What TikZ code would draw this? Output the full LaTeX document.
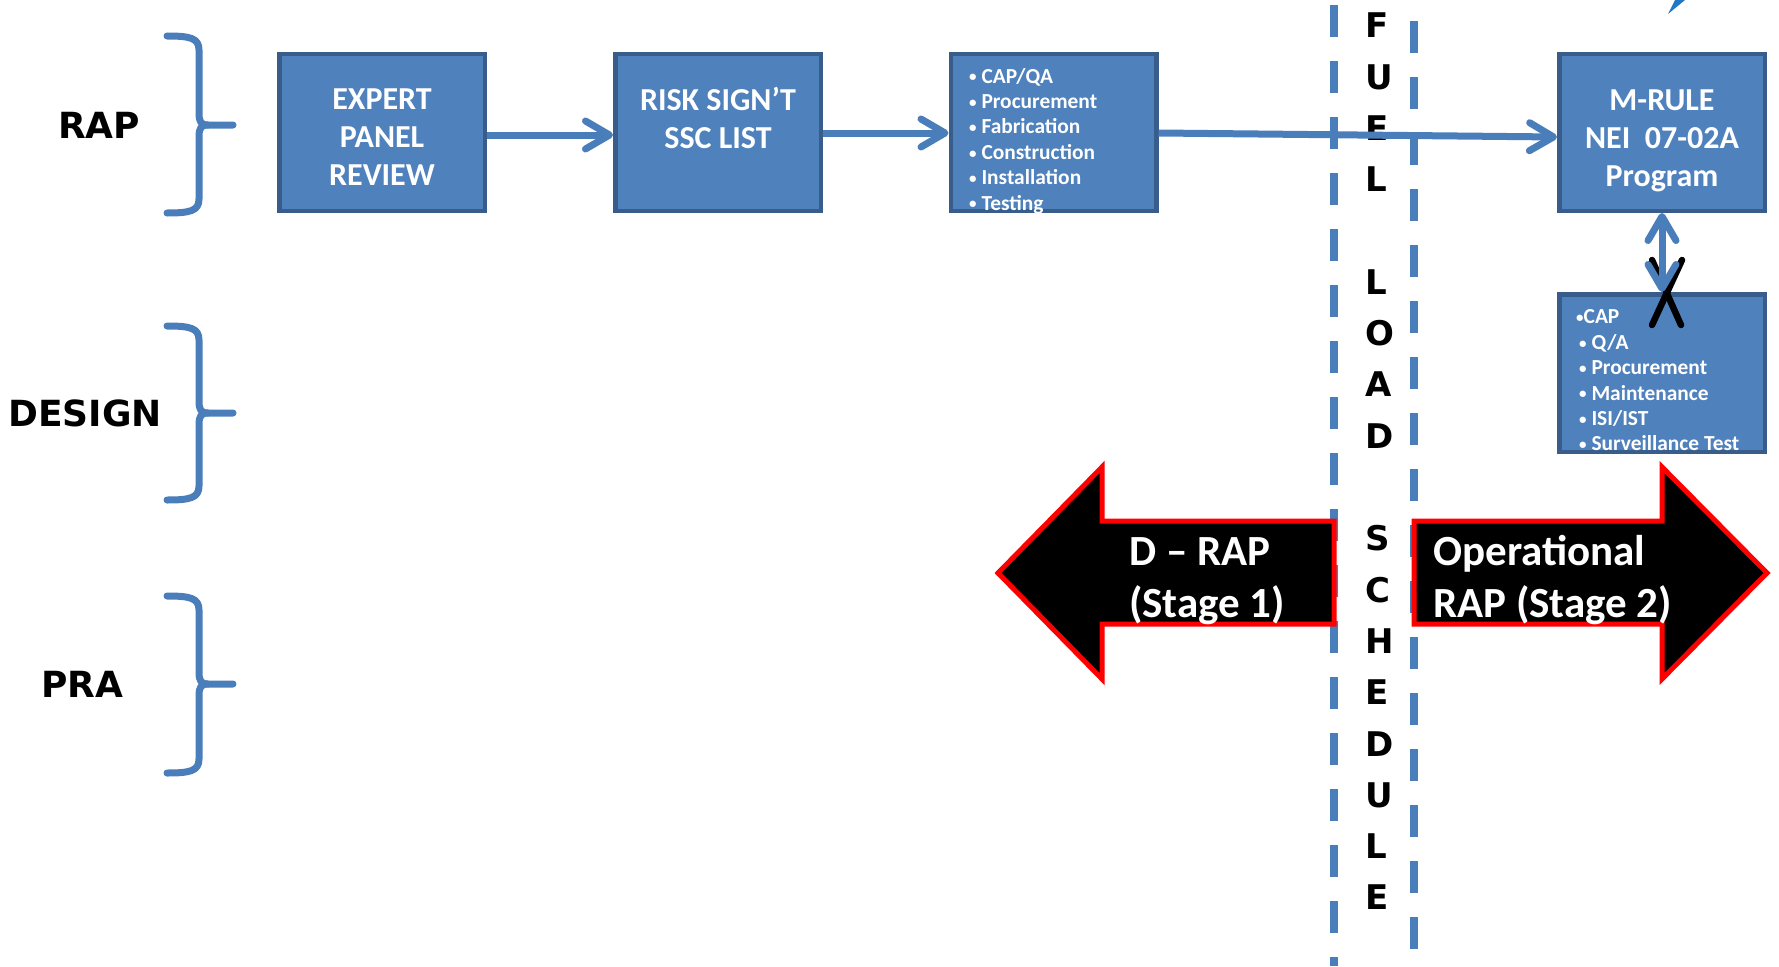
\documentclass[tikz,border=0pt]{standalone}
\usepackage{fontspec}
\setmainfont{Carlito}
\newfontfamily\labfont{DejaVu Sans}
\usetikzlibrary{arrows.meta}
\definecolor{boxfill}{RGB}{79,129,189}
\definecolor{boxedge}{RGB}{56,93,138}
\definecolor{lineblue}{RGB}{74,126,187}
\definecolor{tipblue}{RGB}{31,119,200}
\newcommand{\bul}{\raisebox{1.2pt}{\fontsize{15}{15}\selectfont •}}
\tikzset{
  >={Straight Barb[length=24pt,width=28pt,round]},
  box/.style={draw=boxedge, fill=boxfill, line width=4.5pt, minimum width=205.5pt, minimum height=156.5pt, inner sep=0pt},
  boxtext/.style={text=white, font=\fontsize{32}{38}\selectfont\bfseries, align=center, inner sep=0pt},
  listtext/.style={text=white, font=\fontsize{21.4}{25.4}\selectfont\bfseries, align=left, inner sep=0pt, anchor=west},
  conn/.style={draw=lineblue, line width=7pt, ->},
  dblconn/.style={draw=lineblue, line width=7pt, <->},
  brace/.style={draw=lineblue, line width=7pt, line cap=round, line join=round},
  sidelabel/.style={font=\labfont\bfseries\fontsize{36}{40}\selectfont, inner sep=0pt},
  fueltext/.style={font=\labfont\bfseries\fontsize{34}{51.3}\selectfont, align=left, inner sep=0pt, anchor=west},
  fuelline/.style={draw=lineblue, line width=8pt, dash pattern=on 32pt off 24pt},
  bigarrow/.style={fill=black, draw=red, line width=5pt, line join=miter},
  arrowtext/.style={text=white, font=\fontsize{43}{51.5}\selectfont\bfseries, align=left, inner sep=0pt, anchor=west},
  xmark/.style={draw=black, line width=6.5pt, line cap=round},
}
\begin{document}
\begin{tikzpicture}[x=1pt,y=-1pt]
\useasboundingbox (0,0) rectangle (1779,966);

% side labels and braces
\node[sidelabel] (rap) at (99,125) {RAP};
\node[sidelabel] (des) at (85,413) {DESIGN};
\node[sidelabel] (pra) at (82,684) {PRA};
\foreach \t/\m/\b in {36/125/213, 326/413/500, 596/684/773}{
  \draw[brace] (167,\t) .. controls (190,\t) and (199,\t+2) .. (199,\t+14)
     -- (199,\m-12) .. controls (199,\m-3) and (201,\m) .. (208,\m) -- (233,\m);
  \draw[brace] (208,\m) .. controls (201,\m) and (199,\m+3) .. (199,\m+12)
     -- (199,\b-14) .. controls (199,\b-2) and (190,\b) .. (167,\b);
}

% fuel load schedule divider
\draw[fuelline] (1334,5) -- (1334,966);
\draw[fuelline] (1414,21) -- (1414,949);
\node[fueltext] (fls) at (1365,461.5) {F\\U\\E\\L\\[51.3pt]L\\O\\A\\D\\[51.3pt]S\\C\\H\\E\\D\\U\\L\\E};

% boxes
\node[box] (b1) at (382,132.5) {};
\node[box] (b2) at (718,132.5) {};
\node[box] (b3) at (1053.5,132.5) {};
\node[box] (m) at (1662,132.5) {};
\node[box, minimum height=157.5pt] (l2) at (1662,373) {};

\node[boxtext] (t1) at (382,137.5) {EXPERT\\PANEL\\REVIEW};
\node[boxtext] (t2) at (718,118) {RISK SIGN’T\\SSC LIST};
\node[boxtext] (t3) at (1662,140.5) {M-RULE\\NEI~~07-02A\\Program};
\node[listtext] (l1t) at (969,141) {\bul\ CAP/QA\\\bul\ Procurement\\\bul\ Fabrication\\\bul\ Construction\\\bul\ Installation\\\bul\ Testing};
\node[listtext] (l2t) at (1576,380.5) {\bul CAP\\\hspace*{3pt}\bul\ Q/A\\\hspace*{3pt}\bul\ Procurement\\\hspace*{3pt}\bul\ Maintenance\\\hspace*{3pt}\bul\ ISI/IST\\\hspace*{3pt}\bul\ Surveillance Test};

% connectors
\draw[conn] ([yshift=-2.5pt]b1.east) -- ([yshift=-2.5pt]b2.west);
\draw[conn] ([yshift=-0.5pt]b2.east) -- ([yshift=-0.5pt]b3.west);
\draw[conn] ([yshift=-0.5pt]b3.east) -- ([yshift=-4.5pt]m.west);

% crossed-out mark and double arrow
\draw[xmark] (1652,260) -- (1681,325);
\draw[xmark] (1682,260) -- (1652,325);
\draw[dblconn] (m.south) -- (l2.north);

% small arrow tip at top edge
\fill[tipblue] (1668,14) -- (1675,0) -- (1685,0) -- cycle;

% stage arrows
\path[bigarrow] (998,573) -- (1102,467) -- (1102,521) -- (1334,521) -- (1334,624) -- (1102,624) -- (1102,679) -- cycle;
\path[bigarrow] (1767,573) -- (1662,467) -- (1662,521) -- (1414,521) -- (1414,624) -- (1662,624) -- (1662,679) -- cycle;
\node[arrowtext] (drap) at (1129,581) {D – RAP\\(Stage 1)};
\node[arrowtext] (orap) at (1433,580) {Operational\\RAP (Stage 2)};
\end{tikzpicture}
\end{document}
